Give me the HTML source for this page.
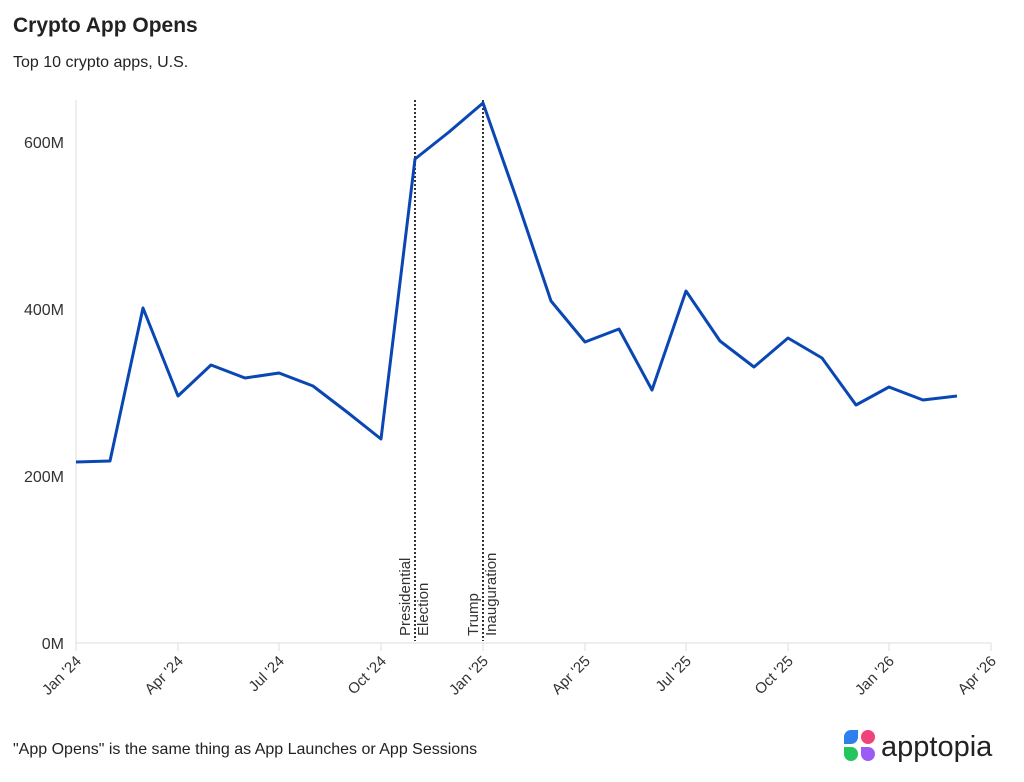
<!DOCTYPE html>
<html><head><style>
body{margin:0;background:#fff;}
svg{display:block;font-family:"Liberation Sans",sans-serif;}
</style></head><body>
<svg width="1024" height="782" viewBox="0 0 1024 782">
<text x="13" y="32" font-size="21" font-weight="bold" fill="#222">Crypto App Opens</text>
<text x="13" y="67" font-size="16" fill="#222">Top 10 crypto apps, U.S.</text>
<line x1="76" y1="100" x2="76" y2="643" stroke="#ddd" stroke-width="1"/>
<line x1="76" y1="643" x2="991" y2="643" stroke="#ddd" stroke-width="1"/>
<g stroke="#ddd">
<line x1="76" y1="643" x2="76" y2="651"/><line x1="178" y1="643" x2="178" y2="651"/><line x1="279" y1="643" x2="279" y2="651"/><line x1="381" y1="643" x2="381" y2="651"/><line x1="483" y1="643" x2="483" y2="651"/><line x1="585" y1="643" x2="585" y2="651"/><line x1="686" y1="643" x2="686" y2="651"/><line x1="788" y1="643" x2="788" y2="651"/><line x1="889" y1="643" x2="889" y2="651"/><line x1="991" y1="643" x2="991" y2="651"/>
</g>
<g font-size="16" fill="#333" text-anchor="end">
<text x="64" y="148">600M</text><text x="64" y="315">400M</text><text x="64" y="482">200M</text><text x="64" y="649">0M</text>
</g>
<g font-size="15" fill="#333" text-anchor="end">
<text transform="translate(82,662) rotate(-45)">Jan '24</text>
<text transform="translate(184,662) rotate(-45)">Apr '24</text>
<text transform="translate(285,662) rotate(-45)">Jul '24</text>
<text transform="translate(387,662) rotate(-45)">Oct '24</text>
<text transform="translate(489,662) rotate(-45)">Jan '25</text>
<text transform="translate(591,662) rotate(-45)">Apr '25</text>
<text transform="translate(692,662) rotate(-45)">Jul '25</text>
<text transform="translate(794,662) rotate(-45)">Oct '25</text>
<text transform="translate(895,662) rotate(-45)">Jan '26</text>
<text transform="translate(997,662) rotate(-45)">Apr '26</text>
</g>
<line x1="415" y1="100" x2="415" y2="641" stroke="#333" stroke-width="2" stroke-dasharray="2,2"/>
<line x1="483" y1="100" x2="483" y2="641" stroke="#333" stroke-width="2" stroke-dasharray="2,2"/>
<g font-size="15" fill="#333">
<text transform="translate(410,636) rotate(-90)">Presidential</text>
<text transform="translate(428,636) rotate(-90)">Election</text>
<text transform="translate(478,636) rotate(-90)">Trump</text>
<text transform="translate(496,636) rotate(-90)">Inauguration</text>
</g>
<polyline fill="none" stroke="#0a47b3" stroke-width="3" stroke-linejoin="round" points="76,462 110,461 143,308 178,396 211,365 245,378 279,373 313,386 347,412 381,439 415,159 449,132 483,103 517,200 551,301 585,342 619,329 652,390 686,291 720,341 754,367 788,338 822,358 856,405 889,387 923,400 957,396"/>
<text x="13" y="754" font-size="16" fill="#222">"App Opens" is the same thing as App Launches or App Sessions</text>
<g>
<path d="M844,737 a7,7 0 0 1 7,-7 h7 v7 a7,7 0 0 1 -7,7 h-7z" fill="#2f80ed"/>
<circle cx="868" cy="737" r="7" fill="#f0437a"/>
<path d="M844,747 h7 a7,7 0 0 1 7,7 a7,7 0 0 1 -7,7 a7,7 0 0 1 -7,-7z" fill="#22c55e"/>
<path d="M861,747 h7 a7,7 0 0 1 7,7 a7,7 0 0 1 -7,7 a7,7 0 0 1 -7,-7z" fill="#9b5cf6"/>
<text x="881" y="756" font-size="29" fill="#222">apptopia</text>
</g>
</svg>
</body></html>
